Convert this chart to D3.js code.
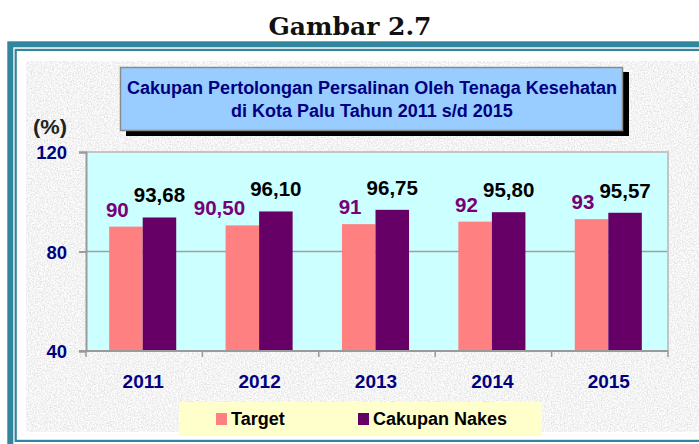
<!DOCTYPE html>
<html>
<head>
<meta charset="utf-8">
<script src="https://cdn.jsdelivr.net/npm/d3@7"></script>
<style>
  body { margin: 0; background: #fff; }
  svg { display: block; }
</style>
</head>
<body>
<div id="chart"></div>
<script>
// Data
const years = ["2011", "2012", "2013", "2014", "2015"];
const target = [90, 90.5, 91, 92, 93];
const cakupan = [93.68, 96.10, 96.75, 95.80, 95.57];
const targetLabels = ["90", "90,50", "91", "92", "93"];
const cakupanLabels = ["93,68", "96,10", "96,75", "95,80", "95,57"];
const yTicks = [40, 80, 120];
const seriesNames = ["Target", "Cakupan Nakes"];

const width = 699, height = 444;
const plot = { left: 86, right: 668, top: 152, bottom: 351 };
const teal = "#31859c";
const navy = "#000080";
const colTarget = "#ff8080";
const colCakupan = "#660066";
const font = "Arial, 'Liberation Sans', sans-serif";

const svg = d3.select("#chart").append("svg")
    .attr("width", width)
    .attr("height", height);

// texture for the grey panel
const defs = svg.append("defs");
const noise = defs.append("filter").attr("id", "noise")
    .attr("x", 0).attr("y", 0).attr("width", 1).attr("height", 1);
noise.append("feTurbulence")
    .attr("type", "fractalNoise")
    .attr("baseFrequency", 0.7)
    .attr("numOctaves", 3)
    .attr("seed", 4);
noise.append("feColorMatrix")
    .attr("type", "matrix")
    .attr("values", "0.5 0 0 0 0.65  0.5 0 0 0 0.65  0.5 0 0 0 0.65  0 0 0 0 1");

// Title above the frame
svg.append("text")
    .attr("x", 350).attr("y", 35)
    .attr("text-anchor", "middle")
    .attr("font-family", "'DejaVu Serif', 'Liberation Serif', serif")
    .attr("font-weight", "bold")
    .attr("font-size", 25)
    .attr("fill", "#111")
    .text("Gambar 2.7");

// frame
svg.append("rect")
    .attr("x", 10.3).attr("y", 44.3)
    .attr("width", 720).attr("height", 420)
    .attr("fill", "none")
    .attr("stroke", teal).attr("stroke-width", 6);
svg.append("rect")
    .attr("x", 15.7).attr("y", 49.9)
    .attr("width", 720).attr("height", 391)
    .attr("fill", "none")
    .attr("stroke", teal).attr("stroke-width", 2.2);

// grey textured panel
svg.append("rect")
    .attr("x", 26).attr("y", 61)
    .attr("width", width - 26).attr("height", 432 - 61)
    .attr("fill", "#e8e8e8")
    .attr("filter", "url(#noise)");

// Scales
const x = d3.scaleBand().domain(years).range([plot.left, plot.right]);
const y = d3.scaleLinear().domain([40, 120]).range([plot.bottom, plot.top]);
const barW = x.bandwidth() * 0.288;
const shift = -1.5;

// plot background
svg.append("rect")
    .attr("x", plot.left).attr("y", plot.top)
    .attr("width", plot.right - plot.left).attr("height", plot.bottom - plot.top)
    .attr("fill", "#ccffff");

// gridlines
svg.append("g")
    .selectAll("line")
    .data(yTicks.filter(t => t > 40 && t < 120))
    .join("line")
    .attr("x1", plot.left).attr("x2", plot.right)
    .attr("y1", d => y(d)).attr("y2", d => y(d))
    .attr("stroke", "#a0a0a0").attr("stroke-width", 1.5);

// top and right border of plot area
svg.append("path")
    .attr("d", `M${plot.left},${plot.top}H${plot.right}V${plot.bottom}`)
    .attr("fill", "none")
    .attr("stroke", "#c4c4c4").attr("stroke-width", 2);

// bars
svg.append("g").selectAll("rect")
    .data(years)
    .join("rect")
    .attr("x", d => x(d) + x.bandwidth() / 2 - barW + shift)
    .attr("y", (d, i) => y(target[i]))
    .attr("width", barW)
    .attr("height", (d, i) => y(40) - y(target[i]))
    .attr("fill", colTarget);

svg.append("g").selectAll("rect")
    .data(years)
    .join("rect")
    .attr("x", d => x(d) + x.bandwidth() / 2 + shift)
    .attr("y", (d, i) => y(cakupan[i]))
    .attr("width", barW)
    .attr("height", (d, i) => y(40) - y(cakupan[i]))
    .attr("fill", colCakupan);

// value labels
svg.append("g").selectAll("text")
    .data(years)
    .join("text")
    .attr("x", d => x(d) + x.bandwidth() / 2 + shift - 14)
    .attr("y", (d, i) => y(target[i]) - 10)
    .attr("text-anchor", "end")
    .attr("font-family", font).attr("font-weight", "bold")
    .attr("font-size", 20.5)
    .attr("fill", "#770077")
    .text((d, i) => targetLabels[i]);

svg.append("g").selectAll("text")
    .data(years)
    .join("text")
    .attr("x", d => x(d) + x.bandwidth() / 2 + shift + barW / 2)
    .attr("y", (d, i) => y(cakupan[i]) - 15)
    .attr("text-anchor", "middle")
    .attr("font-family", font).attr("font-weight", "bold")
    .attr("font-size", 20.5)
    .attr("fill", "#000")
    .text((d, i) => cakupanLabels[i]);

// Y axis
const yAxis = svg.append("g")
    .attr("transform", `translate(${plot.left},0)`)
    .call(d3.axisLeft(y).tickValues(yTicks).tickSize(7).tickPadding(12).tickFormat(d3.format("d")));
yAxis.select(".domain").attr("stroke", "#9a9a9a").attr("stroke-width", 2);
yAxis.selectAll(".tick line").attr("stroke", "#9a9a9a").attr("stroke-width", 2);
yAxis.selectAll(".tick text")
    .attr("font-family", font).attr("font-weight", "bold")
    .attr("font-size", 18.5).attr("fill", navy)
    .attr("dy", "0.36em");

// X axis: ticks at category boundaries
const xAxis = svg.append("g")
    .attr("transform", `translate(0,${plot.bottom})`);
xAxis.append("line")
    .attr("x1", plot.left - 7).attr("x2", plot.right)
    .attr("stroke", "#9a9a9a").attr("stroke-width", 2);
xAxis.selectAll(".bound")
    .data(years.concat(["end"]))
    .join("line")
    .attr("class", "bound")
    .attr("x1", (d, i) => i < years.length ? x(d) : plot.right)
    .attr("x2", (d, i) => i < years.length ? x(d) : plot.right)
    .attr("y1", 0).attr("y2", 6)
    .attr("stroke", "#9a9a9a").attr("stroke-width", 1.5);
xAxis.selectAll(".yr")
    .data(years)
    .join("text")
    .attr("class", "yr")
    .attr("x", d => x(d) + x.bandwidth() / 2 - 1)
    .attr("y", 37)
    .attr("text-anchor", "middle")
    .attr("font-family", font).attr("font-weight", "bold")
    .attr("font-size", 19).attr("fill", navy)
    .text(d => d);

// unit label
svg.append("text")
    .attr("x", 33).attr("y", 134)
    .attr("font-family", font).attr("font-weight", "bold")
    .attr("font-size", 21).attr("fill", "#222")
    .attr("textLength", 34).attr("lengthAdjust", "spacingAndGlyphs")
    .text("(%)");

// chart title box
svg.append("rect")
    .attr("x", 126).attr("y", 72)
    .attr("width", 503).attr("height", 64)
    .attr("fill", "#000");
svg.append("rect")
    .attr("x", 120.5).attr("y", 67.5)
    .attr("width", 502).attr("height", 63)
    .attr("fill", "#99ccff")
    .attr("stroke", "#8a8a8a").attr("stroke-width", 1.5);
const titleLines = ["Cakupan Pertolongan Persalinan Oleh Tenaga Kesehatan", "di Kota Palu Tahun 2011 s/d 2015"];
svg.append("g").selectAll("text")
    .data(titleLines)
    .join("text")
    .attr("x", 372)
    .attr("y", (d, i) => 94 + i * 23)
    .attr("text-anchor", "middle")
    .attr("font-family", font).attr("font-weight", "bold")
    .attr("font-size", 18).attr("fill", navy)
    .text(d => d);

// legend
const legend = svg.append("g");
legend.append("rect")
    .attr("x", 179).attr("y", 402)
    .attr("width", 363).attr("height", 34)
    .attr("fill", "#ffffcc");
const legendX = [216, 358];
const legendCol = [colTarget, colCakupan];
legend.selectAll(".sw")
    .data(seriesNames)
    .join("rect")
    .attr("class", "sw")
    .attr("x", (d, i) => legendX[i]).attr("y", 413)
    .attr("width", 11).attr("height", 12)
    .attr("fill", (d, i) => legendCol[i]);
legend.selectAll(".lt")
    .data(seriesNames)
    .join("text")
    .attr("class", "lt")
    .attr("x", (d, i) => legendX[i] + 15).attr("y", 425)
    .attr("font-family", font).attr("font-weight", "bold")
    .attr("font-size", 18).attr("fill", "#000")
    .text(d => d);
</script>
</body>
</html>
